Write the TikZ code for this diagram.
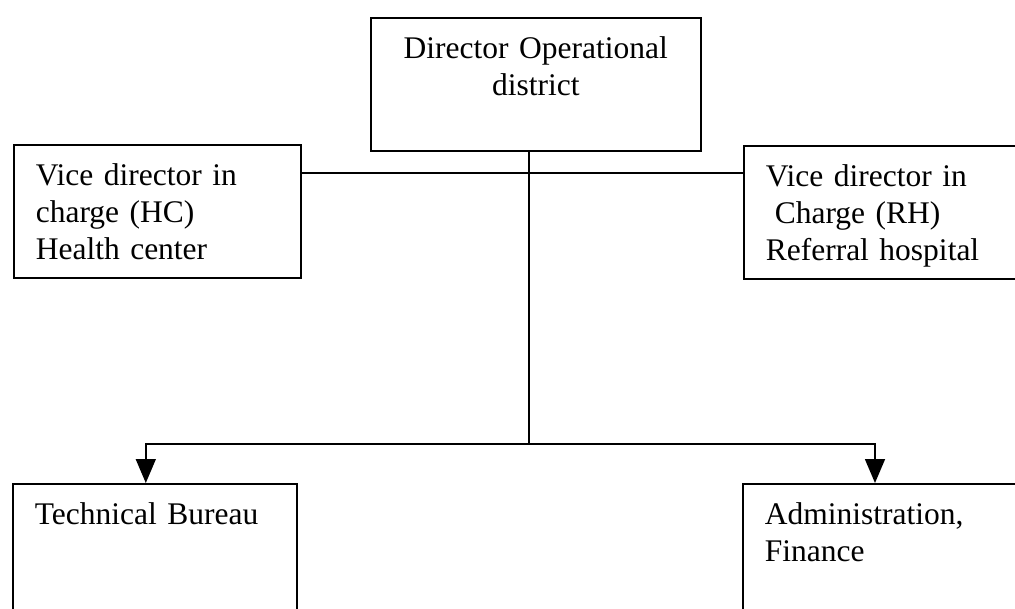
\documentclass[tikz,border=0pt]{standalone}
\usepackage{fontspec}
\setmainfont{Liberation Serif}
\usetikzlibrary{arrows.meta}
\tikzset{
	unit/.style = {draw, rectangle, anchor=north west, line width=1.6pt, inner xsep=22pt, inner ysep=0pt, text height=41pt, text depth=92pt, align=left, font=\fontsize{31.5}{37}\selectfont},
	link/.style = {line width=1.6pt},
	down/.style = {line width=1.6pt, -{Triangle[length=24pt,width=20pt]}}
}

\begin{document}
\begin{tikzpicture}[x=1pt,y=-1pt]
	\clip (0,0) rectangle (1015,608);
	\node (dir) at (370, 17)	[unit, align=center, text width=286pt]	{Director Operational\\district};
	\node (hc) at ( 13,144)	[unit, text width=243pt]	{Vice director in\\charge (HC)\\Health center};
	\node (rh) at (743,145)	[unit, text width=250pt]	{Vice director in\\\hspace*{9pt}Charge (RH)\\Referral hospital};
	\node (tb) at ( 12,483)	[unit, text width=240pt]	{Technical Bureau};
	\node (af) at (742,483)	[unit, text width=250pt]	{Administration,\\Finance};
	\coordinate (bar) at (529,173);
	\coordinate (split) at (529,444);
	\draw[link] (hc.east |- bar) -- (rh.west |- bar);
	\draw[link] (dir.south -| split) -- (split);
	\draw[down] (split) -| ([xshift=-9pt]tb.north);
	\draw[down] (split) -| ([xshift=133pt]af.north west);
\end{tikzpicture}
\end{document}
